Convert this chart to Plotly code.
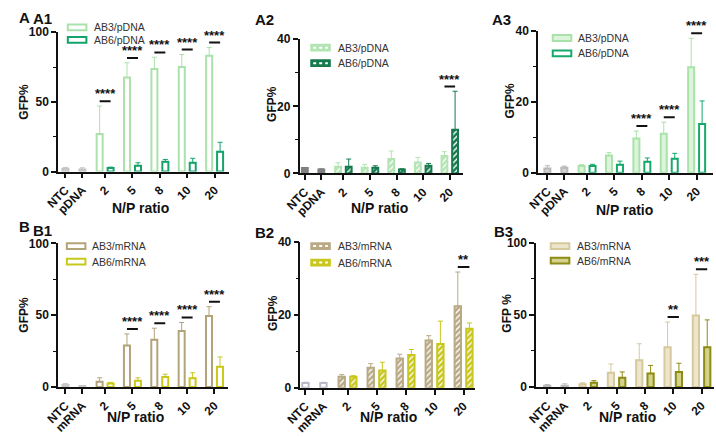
import plotly.graph_objects as go

FIG_W, FIG_H = 716, 437
GROUPS = ["2", "5", "8", "10", "20"]

# ---------------- data (mean, upper error) ----------------
# A1 : pDNA, panel 1 (0-100)
a1_ctrl_labels = ["NTC", "pDNA"]
a1_ctrl = [2.0, 1.5]
a1_ctrl_err = [1.0, 1.2]
a1_ab3 = [27.0, 67.5, 73.5, 75.0, 83.0]
a1_ab3_err = [20.0, 10.5, 8.5, 9.0, 6.0]
a1_ab6 = [2.5, 4.2, 7.0, 6.3, 14.2]
a1_ab6_err = [0.7, 2.1, 1.7, 3.2, 6.8]
a1_sig = ["****", "****", "****", "****", "****"]

# A2 : pDNA, panel 2 (0-40)
a2_ctrl_labels = ["NTC", "pDNA"]
a2_ctrl = [1.6, 1.2]
a2_ctrl_err = [0.2, 0.2]
a2_ab3 = [2.0, 1.7, 4.3, 3.3, 5.2]
a2_ab3_err = [1.2, 1.0, 2.4, 1.5, 1.3]
a2_ab6 = [2.0, 1.7, 1.2, 2.3, 13.0]
a2_ab6_err = [2.3, 0.6, 0.2, 0.7, 11.5]
a2_sig = ["", "", "", "", "****"]

# A3 : pDNA, panel 3 (0-40)
a3_ctrl_labels = ["NTC", "pDNA"]
a3_ctrl = [1.2, 1.4]
a3_ctrl_err = [0.8, 0.5]
a3_ab3 = [1.9, 4.9, 9.7, 11.0, 29.8]
a3_ab3_err = [0.4, 0.8, 2.1, 3.3, 8.2]
a3_ab6 = [1.9, 2.3, 3.1, 4.0, 13.8]
a3_ab6_err = [0.5, 1.0, 1.1, 1.5, 6.5]
a3_sig = ["", "", "****", "****", "****"]

# B1 : mRNA, panel 1 (0-100)
b1_ctrl_labels = ["NTC", "mRNA"]
b1_ctrl = [1.5, 0.7]
b1_ctrl_err = [1.0, 0.3]
b1_ab3 = [3.8, 29.0, 33.0, 39.0, 49.5]
b1_ab3_err = [2.7, 8.0, 8.0, 6.0, 6.5]
b1_ab6 = [2.5, 4.5, 7.0, 6.2, 14.2]
b1_ab6_err = [0.8, 2.0, 2.0, 3.8, 6.8]
b1_sig = ["", "****", "****", "****", "****"]

# B2 : mRNA, panel 2 (0-40)
b2_ctrl_labels = ["NTC", "mRNA"]
b2_ctrl = [1.3, 1.3]
b2_ctrl_err = [0.2, 0.2]
b2_ab3 = [3.0, 5.5, 8.0, 13.0, 22.4]
b2_ab3_err = [0.6, 1.1, 1.2, 1.3, 9.4]
b2_ab6 = [3.0, 4.7, 9.0, 12.0, 16.2]
b2_ab6_err = [0.3, 2.3, 1.5, 6.3, 1.6]
b2_sig = ["", "", "", "", "**"]

# B3 : mRNA, panel 3 (0-100)
b3_ctrl_labels = ["NTC", "mRNA"]
b3_ctrl = [1.0, 1.0]
b3_ctrl_err = [0.8, 1.3]
b3_ab3 = [2.0, 10.0, 18.5, 27.5, 49.5]
b3_ab3_err = [1.0, 6.0, 11.5, 17.5, 28.5]
b3_ab6 = [3.0, 6.5, 9.5, 10.5, 27.5]
b3_ab6_err = [1.5, 4.0, 5.5, 6.0, 19.0]
b3_sig = ["", "", "", "**", "***"]

# ---------------- layout constants ----------------
FONT = "Arial, Liberation Sans, sans-serif"
CTRL_POS = [-1.45, -0.83]
BAR_OFF = 0.2
BAR_W = 0.22


def px(x):
    return x / FIG_W


def py(y):
    return 1 - y / FIG_H


panels = [
    dict(name="A1", ab3="AB3/pDNA", ab6="AB6/pDNA", ytitle="GFP%",
         ctrl_labels=a1_ctrl_labels, ctrl=a1_ctrl, ctrl_err=a1_ctrl_err,
         ab3_v=a1_ab3, ab3_e=a1_ab3_err, ab6_v=a1_ab6, ab6_e=a1_ab6_err, sig=a1_sig,
         box=(43, 218, 26, 170), xr=(-1.72, 4.53), ymax=100,
         ctrl_style=("#dcdcdc", "#c4c4c4", None),
         ab3_style=("white", "#abe2ab", None), ab6_style=("white", "#14a36b", None),
         label=(15, 12), ytitle_pos=(8, 98), xtitle_pos=(127, 208),
         legend=(53, 78, 21, 34)),
    dict(name="A2", ab3="AB3/pDNA", ab6="AB6/pDNA", ytitle="GFP%",
         ctrl_labels=a2_ctrl_labels, ctrl=a2_ctrl, ctrl_err=a2_ctrl_err,
         ab3_v=a2_ab3, ab3_e=a2_ab3_err, ab6_v=a2_ab6, ab6_e=a2_ab6_err, sig=a2_sig,
         box=(290, 457, 33.3, 172), xr=(-1.65, 4.49), ymax=40,
         ctrl_style=("#808080", "#808080", None),
         ab3_style=("#b4e4b4", "#b4e4b4", "/"), ab6_style=("#177a4e", "#177a4e", "/"),
         label=(242, 13), ytitle_pos=(262, 100), xtitle_pos=(372, 208),
         legend=(302, 327, 42, 58)),
    dict(name="A3", ab3="AB3/pDNA", ab6="AB6/pDNA", ytitle="GFP%",
         ctrl_labels=a3_ctrl_labels, ctrl=a3_ctrl, ctrl_err=a3_ctrl_err,
         ab3_v=a3_ab3, ab3_e=a3_ab3_err, ab6_v=a3_ab6, ab6_e=a3_ab6_err, sig=a3_sig,
         box=(534, 713, 25, 171.3), xr=(-1.79, 4.6), ymax=40,
         ctrl_style=("#d4d4d4", "#b8b8b8", None),
         ab3_style=("#dcf4dc", "#a9e3a9", None), ab6_style=("white", "#17a86c", None),
         label=(485, 13), ytitle_pos=(505, 97), xtitle_pos=(622, 210),
         legend=(549, 573, 32, 48)),
    dict(name="B1", ab3="AB3/mRNA", ab6="AB6/mRNA", ytitle="GFP%",
         ctrl_labels=b1_ctrl_labels, ctrl=b1_ctrl, ctrl_err=b1_ctrl_err,
         ab3_v=b1_ab3, ab3_e=b1_ab3_err, ab6_v=b1_ab6, ab6_e=b1_ab6_err, sig=b1_sig,
         box=(43, 217, 244.3, 392.7), xr=(-1.72, 4.5), ymax=100,
         ctrl_style=("#e0e0e0", "#c8c8c8", None),
         ab3_style=("white", "#b3a378", None), ab6_style=("white", "#c9c81c", None),
         label=(15, 231), ytitle_pos=(8, 318), xtitle_pos=(122, 424),
         legend=(52, 76, 247, 263)),
    dict(name="B2", ab3="AB3/mRNA", ab6="AB6/mRNA", ytitle="GFP%",
         ctrl_labels=b2_ctrl_labels, ctrl=b2_ctrl, ctrl_err=b2_ctrl_err,
         ab3_v=b2_ab3, ab3_e=b2_ab3_err, ab6_v=b2_ab6, ab6_e=b2_ab6_err, sig=b2_sig,
         box=(291, 470, 243, 393.3), xr=(-1.62, 4.41), ymax=40,
         ctrl_style=("white", "#b9bcc6", None),
         ab3_style=("#b9aa85", "#b9aa85", "/"), ab6_style=("#c8c71f", "#c8c71f", "/"),
         label=(242, 233), ytitle_pos=(263, 316), xtitle_pos=(381, 424),
         legend=(302, 327, 247, 264)),
    dict(name="B3", ab3="AB3/mRNA", ab6="AB6/mRNA", ytitle="GFP %",
         ctrl_labels=b3_ctrl_labels, ctrl=b3_ctrl, ctrl_err=b3_ctrl_err,
         ab3_v=b3_ab3, ab3_e=b3_ab3_err, ab6_v=b3_ab6, ab6_e=b3_ab6_err, sig=b3_sig,
         box=(532, 714, 243.3, 392.7), xr=(-1.84, 4.44), ymax=100,
         ctrl_style=("#dddddd", "#bbbbbb", None),
         ab3_style=("#eee6cc", "#d6c99e", None), ab6_style=("#d3d18c", "#8d8c14", None),
         label=(487, 232), ytitle_pos=(502, 316), xtitle_pos=(625, 424),
         legend=(547, 572, 247, 262)),
]

fig = go.Figure()
annotations = []
shapes = []
layout_axes = {}


def bold(size):
    return dict(family=FONT, size=size, color="#111", weight="bold")


for i, p in enumerate(panels):
    k = "" if i == 0 else str(i + 1)
    xa, ya = "x" + k, "y" + k
    gpos = list(range(len(GROUPS)))

    def bar(xs, vals, errs, style, name):
        fill, edge, hatch = style
        marker = dict(color=fill, line=dict(color=edge, width=2))
        if hatch:
            marker["pattern"] = dict(shape=hatch, fgcolor="white", bgcolor=fill,
                                     size=4, solidity=0.35, fillmode="replace")
        return go.Bar(x=xs, y=vals, width=BAR_W, name=name, showlegend=False,
                      xaxis=xa, yaxis=ya, marker=marker,
                      error_y=dict(type="data", symmetric=False, array=errs,
                                   arrayminus=[0] * len(errs), color=edge,
                                   thickness=1, width=2.5))

    fig.add_trace(bar(CTRL_POS, p["ctrl"], p["ctrl_err"], p["ctrl_style"], "control"))
    fig.add_trace(bar([g - BAR_OFF for g in gpos], p["ab3_v"], p["ab3_e"], p["ab3_style"], p["ab3"]))
    fig.add_trace(bar([g + BAR_OFF for g in gpos], p["ab6_v"], p["ab6_e"], p["ab6_style"], p["ab6"]))

    x0, x1, yt, yb = p["box"]
    ymax = p["ymax"]
    major = ymax / 2
    layout_axes["xaxis" + k] = dict(
        domain=[px(x0), px(x1)], anchor=ya, range=list(p["xr"]),
        showline=True, linecolor="#111", linewidth=1.6, ticks="outside",
        ticklen=5, tickwidth=1.6, tickcolor="#111",
        tickvals=CTRL_POS + gpos, ticktext=p["ctrl_labels"] + GROUPS,
        tickangle=-45, tickfont=bold(12),
        showgrid=False, zeroline=False, fixedrange=True)
    layout_axes["yaxis" + k] = dict(
        domain=[py(yb), py(yt)], anchor=xa, range=[0, ymax],
        showline=True, linecolor="#111", linewidth=1.6, ticks="outside",
        ticklen=5, tickwidth=1.6, tickcolor="#111",
        tickvals=[0, major, ymax],
        minor=dict(dtick=major / 2, ticks="outside", ticklen=3, tickwidth=1.2, tickcolor="#111"),
        tickfont=bold(12),
        showgrid=False, zeroline=False, fixedrange=True)

    # legend (drawn as symbols + text)
    sx, tx, r1, r2 = p["legend"]
    for (name, style), ry in zip([(p["ab3"], p["ab3_style"]), (p["ab6"], p["ab6_style"])], [r1, r2]):
        fill, edge, hatch = style
        shapes.append(dict(type="rect", xref="paper", yref="paper",
                           x0=px(sx), x1=px(sx + 19), y0=py(ry + 3), y1=py(ry - 3),
                           fillcolor=fill, line=dict(color=edge, width=2)))
        if hatch:
            shapes.append(dict(type="line", xref="paper", yref="paper",
                               x0=px(sx + 2), x1=px(sx + 17), y0=py(ry), y1=py(ry),
                               line=dict(color="white", width=2, dash="dot")))
        annotations.append(dict(x=px(tx), y=py(ry), xref="paper", yref="paper",
                                text=name, showarrow=False, xanchor="left", yanchor="middle",
                                font=dict(family=FONT, size=10.5, color="#333")))

    # significance markers
    for g, s, v3, e3, v6, e6 in zip(gpos, p["sig"], p["ab3_v"], p["ab3_e"], p["ab6_v"], p["ab6_e"]):
        if not s:
            continue
        lvl = max(v3 + e3, v6 + e6) + 0.035 * ymax
        shapes.append(dict(type="line", xref=xa, yref=ya, x0=g - BAR_OFF, x1=g + BAR_OFF,
                           y0=lvl, y1=lvl, line=dict(color="#111", width=2)))
        annotations.append(dict(x=g, y=lvl, xref=xa, yref=ya, text=s, showarrow=False,
                                yanchor="bottom", yshift=-2, font=bold(13)))

    # panel label, axis titles
    lab_x, lab_y = p["label"]
    annotations.append(dict(x=px(lab_x), y=py(lab_y), xref="paper", yref="paper",
                            text=p["name"], showarrow=False, xanchor="left", yanchor="middle",
                            font=bold(15)))
    tx_, ty_ = p["ytitle_pos"]
    annotations.append(dict(x=px(tx_), y=py(ty_), xref="paper", yref="paper",
                            text=p["ytitle"], showarrow=False, textangle=-90,
                            xanchor="center", yanchor="middle", font=bold(12)))
    tx_, ty_ = p["xtitle_pos"]
    annotations.append(dict(x=px(tx_), y=py(ty_), xref="paper", yref="paper",
                            text="N/P ratio", showarrow=False,
                            xanchor="center", yanchor="middle", font=bold(14)))

# big section letters
annotations.append(dict(x=px(1), y=py(11), xref="paper", yref="paper", text="A",
                        showarrow=False, xanchor="left", yanchor="middle", font=bold(15)))
annotations.append(dict(x=px(1), y=py(227), xref="paper", yref="paper", text="B",
                        showarrow=False, xanchor="left", yanchor="middle", font=bold(15)))

fig.update_layout(
    width=FIG_W, height=FIG_H, margin=dict(l=0, r=0, t=0, b=0),
    paper_bgcolor="white", plot_bgcolor="white", barmode="overlay", showlegend=False,
    font=dict(family=FONT, color="#111"),
    annotations=annotations, shapes=shapes, **layout_axes)

fig.write_html("out.html", config={"displayModeBar": False},
               post_script="document.body.style.margin='0px';")
